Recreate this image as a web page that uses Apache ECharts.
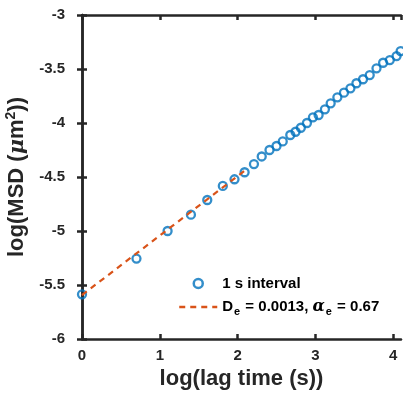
<!DOCTYPE html>
<html>
<head>
<meta charset="utf-8">
<script src="https://cdn.jsdelivr.net/npm/echarts@6/dist/echarts.min.js"></script>
<style>
html,body{margin:0;padding:0;background:#fff;}
#chart{width:403px;height:399px;}
</style>
</head>
<body>
<div id="chart"></div>
<script>
// log(lag time) of each measured point
var lagX = [0, 0.70, 1.10, 1.40, 1.61, 1.81, 1.96, 2.09, 2.21, 2.31, 2.41, 2.50, 2.58,
  2.677, 2.745, 2.813, 2.891, 2.968, 3.041, 3.122, 3.196, 3.282, 3.367, 3.450, 3.527,
  3.612, 3.698, 3.785, 3.870, 3.956, 4.043, 4.095];
// log(MSD) of each measured point
var msdY = [-5.586, -5.255, -5.0, -4.849, -4.713, -4.583, -4.521, -4.456, -4.380, -4.310,
  -4.25, -4.213, -4.171, -4.111, -4.081, -4.044, -4.0, -3.947, -3.926, -3.873, -3.818,
  -3.762, -3.719, -3.679, -3.632, -3.595, -3.556, -3.494, -3.442, -3.417, -3.380, -3.335];
// fitted line end points
var fitX = [0, 2.09];
var fitY = [-5.593, -4.442];
var seriesNames = ['1 s interval', 'fit'];
var xTicks = [0, 1, 2, 3, 4];
var yTicks = [-6, -5.5, -5, -4.5, -4, -3.5, -3];

var AX = '#262626';
var FONT = 'Liberation Sans, Arial, sans-serif';

var pts = lagX.map(function (x, i) { return [x, msdY[i]]; });
var fitPts = fitX.map(function (x, i) { return [x, fitY[i]]; });

function boxAxis(extra) {
  var base = {
    type: 'value',
    axisLine: { show: true, lineStyle: { color: AX, width: 2.5 } },
    axisTick: { show: true, inside: true, length: 5, lineStyle: { color: AX, width: 2.5 } },
    splitLine: { show: false },
    axisLabel: { show: false }
  };
  for (var k in extra) base[k] = extra[k];
  return base;
}

var chart = echarts.init(document.getElementById('chart'), null, { renderer: 'canvas' });
chart.setOption({
  animation: false,
  backgroundColor: '#fff',
  grid: { left: 82, right: 2, top: 15, bottom: 60, containLabel: false, outerBoundsMode: 'none' },
  xAxis: [
    boxAxis({
      min: xTicks[0], max: 4.1, interval: 1, position: 'bottom',
      axisLabel: { show: true, color: AX, fontFamily: FONT, fontWeight: 'bold', fontSize: 15, margin: 9 },
      name: 'log(lag time (s))', nameLocation: 'middle', nameGap: 19,
      nameTextStyle: { color: AX, fontFamily: FONT, fontWeight: 'bold', fontSize: 22 }
    }),
    boxAxis({ min: xTicks[0], max: 4.1, interval: 1, position: 'top' })
  ],
  yAxis: [
    boxAxis({
      min: yTicks[0], max: yTicks[yTicks.length - 1], interval: 0.5, position: 'left',
      axisLabel: { show: true, color: AX, fontFamily: FONT, fontWeight: 'bold', fontSize: 15, margin: 17 },
      name: '{t|log(MSD (}{m|\u03bc}{t|m}{p|2}{t|))}', nameLocation: 'middle', nameGap: 45, nameRotate: 90,
      nameTextStyle: {
        color: AX, fontFamily: FONT, fontWeight: 'bold', fontSize: 22,
        rich: {
          t: { color: AX, fontFamily: FONT, fontWeight: 'bold', fontSize: 22 },
          m: { color: AX, fontFamily: 'DejaVu Serif, serif', fontStyle: 'italic', fontSize: 21 },
          p: { color: AX, fontFamily: FONT, fontWeight: 'bold', fontSize: 14, padding: [0, 0, 12, 0] }
        }
      }
    }),
    boxAxis({ min: yTicks[0], max: yTicks[yTicks.length - 1], interval: 0.5, position: 'right' })
  ],
  legend: {
    left: 178, top: 276, padding: 0, orient: 'vertical', itemWidth: 38, itemHeight: 9, itemGap: 8,
    data: [
      { name: seriesNames[0], icon: 'circle', itemStyle: { color: 'rgba(0,0,0,0)', borderColor: '#0072BD', borderWidth: 2.5 } },
      { name: seriesNames[1], itemStyle: { color: 'rgba(0,0,0,0)', borderWidth: 0, opacity: 0 },
        lineStyle: { color: '#D95319', width: 2.5, type: [6, 5], opacity: 1 } }
    ],
    formatter: function (name) {
      if (name === 'fit') return '{t|D}{s|e}{t| = 0.0013, }{g|\u03b1}{s|e}{t| = 0.67}';
      return '{t|' + name + '}';
    },
    textStyle: {
      color: '#000', fontFamily: FONT, fontWeight: 'bold', fontSize: 15,
      rich: {
        t: { color: '#000', fontFamily: FONT, fontWeight: 'bold', fontSize: 15 },
        s: { color: '#000', fontFamily: FONT, fontWeight: 'bold', fontSize: 11, padding: [10, 1, 0, 1] },
        g: { color: '#000', fontFamily: 'DejaVu Serif, serif', fontStyle: 'italic', fontSize: 16 }
      }
    }
  },
  series: [
    {
      name: seriesNames[0], type: 'scatter', data: pts, symbol: 'circle', symbolSize: 8,
      itemStyle: { color: 'rgba(0,0,0,0)', borderColor: '#0072BD', borderWidth: 2.3 }, z: 2
    },
    {
      name: seriesNames[1], type: 'line', data: fitPts, showSymbol: false, symbol: 'none',
      lineStyle: { color: '#D95319', width: 2.2, type: [6, 5] },
      itemStyle: { color: '#D95319' }, z: 3
    }
  ]
});
</script>
</body>
</html>
